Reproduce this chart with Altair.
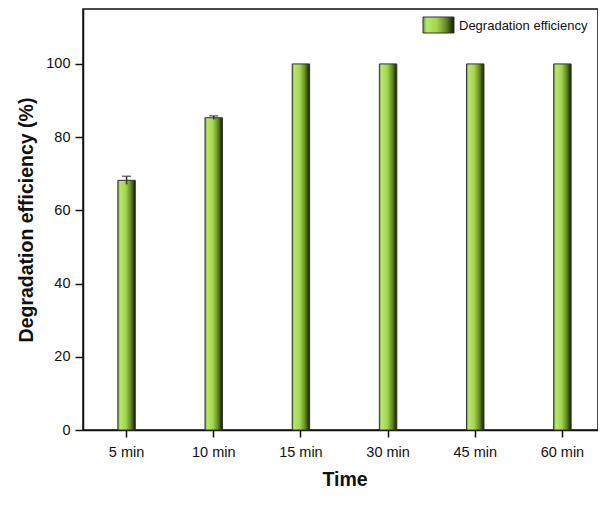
import altair as alt
import pandas as pd

times = ["5 min", "10 min", "15 min", "30 min", "45 min", "60 min"]
efficiency = [68.2, 85.3, 100, 100, 100, 100]
errors = [1.1, 0.5, 0, 0, 0, 0]
legend_label = ["Degradation efficiency"]

df = pd.DataFrame({"time": times, "eff": efficiency, "err": errors})
df["lo"] = df["eff"] - df["err"]
df["hi"] = df["eff"] + df["err"]
df_err = df[df["err"] > 0]

FONT = "Liberation Sans"

grad = alt.Gradient(
    gradient="linear",
    x1=0, x2=1, y1=0, y2=0,
    stops=[
        alt.GradientStop(offset=0.0, color="#6f9a32"),
        alt.GradientStop(offset=0.12, color="#b8e86a"),
        alt.GradientStop(offset=0.45, color="#a4d452"),
        alt.GradientStop(offset=0.75, color="#5f8624"),
        alt.GradientStop(offset=1.0, color="#121806"),
    ],
)

x_scale = alt.Scale(paddingInner=0.8, paddingOuter=0.4, range=[0, 523])

x_enc = alt.X(
    "time:N",
    sort=times,
    title="Time",
    scale=x_scale,
    axis=alt.Axis(
        labelAngle=0, labelFontSize=14.5, labelFont=FONT, labelColor="#111",
        labelPadding=8, tickSize=7, tickColor="#111", tickWidth=1.5,
        domainColor="#111", domainWidth=1.5,
        titleFont=FONT, titleFontSize=19.5, titleFontWeight="bold", titleColor="#111",
        titlePadding=12,
    ),
)

y_scale = alt.Scale(domain=[0, 115], nice=False)
y_axis = alt.Axis(
    values=[0, 10, 20, 30, 40, 50, 60, 70, 80, 90, 100, 110],
    labelExpr="datum.value % 20 == 0 ? datum.label : ''",
    tickSize={"condition": {"test": "datum.value % 20 == 0", "value": 8}, "value": 5},
    labelFontSize=14.5, labelFont=FONT, labelColor="#111", labelPadding=5,
    tickColor="#111", tickWidth=1.5, domainColor="#111", domainWidth=1.5,
    grid=False,
    titleFont=FONT, titleFontSize=19.5, titleFontWeight="bold", titleColor="#111",
    titlePadding=9,
)

bars = alt.Chart(df).mark_bar(color=grad, stroke="#333", strokeWidth=1).encode(
    x=x_enc,
    y=alt.Y("eff:Q", title="Degradation efficiency (%)", scale=y_scale, axis=y_axis),
)

err_rule = alt.Chart(df_err).mark_rule(color="#333", strokeWidth=1.5).encode(
    x=alt.X("time:N", sort=times, scale=x_scale),
    y=alt.Y("lo:Q", scale=y_scale),
    y2="hi:Q",
)
err_cap = alt.Chart(df_err).mark_tick(color="#333", thickness=1.5, size=9, orient="horizontal").encode(
    x=alt.X("time:N", sort=times, scale=x_scale),
    y=alt.Y("hi:Q", scale=y_scale),
)

leg_df = pd.DataFrame({"label": legend_label})
leg_swatch = alt.Chart(leg_df).mark_rect(color=grad, stroke="#333", strokeWidth=1).encode(
    x=alt.value(340), x2=alt.value(371), y=alt.value(8), y2=alt.value(24)
)
leg_text = alt.Chart(leg_df).mark_text(
    align="left", baseline="middle", font=FONT, fontSize=13, color="#111"
).encode(x=alt.value(376), y=alt.value(16.5), text="label:N")

chart = alt.layer(bars, err_rule, err_cap, leg_swatch, leg_text).properties(
    width=515,
    height=421,
    autosize=alt.AutoSizeParams(type="none"),
    padding={"left": 75, "top": 1, "right": 0, "bottom": 76},
    background="white",
).configure_view(stroke="#111", strokeWidth=1.5)

chart.save("out.html", embed_options={"renderer": "svg", "actions": False})
